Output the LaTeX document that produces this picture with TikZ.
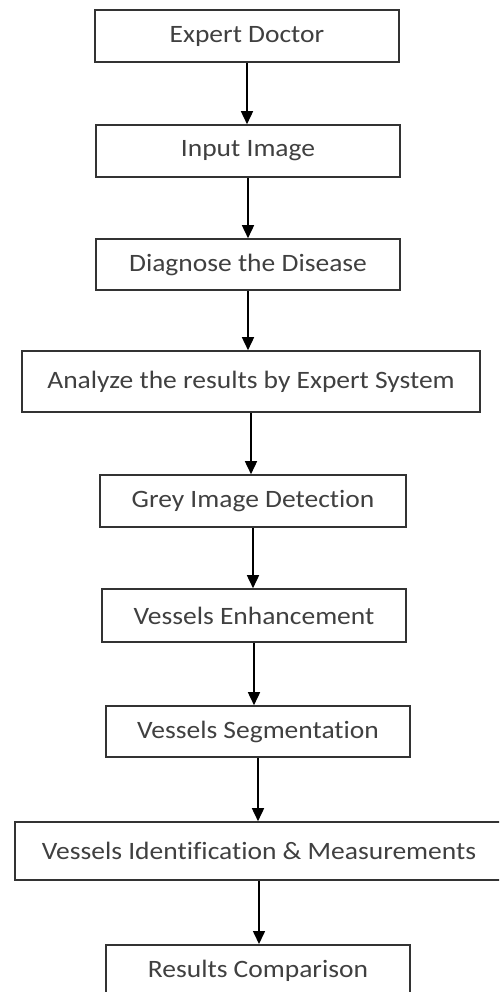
\documentclass[tikz,border=0pt]{standalone}
\usepackage{fontspec}
\setmainfont{Carlito}[FakeStretch=1.1,Ligatures=NoCommon]
\usetikzlibrary{arrows.meta}
\begin{document}
\begin{tikzpicture}[x=1pt,y=-1pt,
  box/.style={draw=black!80,line width=1.6pt,rectangle,inner sep=0pt,
    font=\fontsize{25}{30}\selectfont,text=black!75},
  arr/.style={draw=black,line width=1.6pt,-{Triangle[length=13pt,width=12pt]}}]
\useasboundingbox (0,0) rectangle (499,992);
\clip (0,0) rectangle (499,992);
\fill[white] (0,0) rectangle (499,992);
\node[box,minimum width=304pt,minimum height=52pt] (b1) at (247,36) {Expert Doctor};
\node[box,minimum width=304pt,minimum height=52pt] (b2) at (248,151) {Input Image};
\node[box,minimum width=304pt,minimum height=51pt] (b3) at (248,264.5) {Diagnose the Disease};
\node[box,minimum width=458pt,minimum height=61pt] (b4) at (251,381.5) {Analyze the results by Expert System};
\node[box,minimum width=306pt,minimum height=52pt] (b5) at (253,501) {Grey Image Detection};
\node[box,minimum width=304pt,minimum height=53pt] (b6) at (254,615.5) {Vessels Enhancement};
\node[box,minimum width=304pt,minimum height=51pt] (b7) at (258,731.5) {Vessels Segmentation};
\node[box,minimum width=488pt,minimum height=58pt] (b8) at (259,851) {Vessels Identification \& Measurements};
\node[box,minimum width=304pt,minimum height=56pt,anchor=north] (b9) at (258,944) {\raisebox{8pt}{Results Comparison}};
\draw[arr] (b1.south) -- (b1.south |- b2.north);
\draw[arr] (b2.south) -- (b2.south |- b3.north);
\draw[arr] (b3.south) -- (b3.south |- b4.north);
\draw[arr] (b4.south) -- (b4.south |- b5.north);
\draw[arr] (b5.south) -- (b5.south |- b6.north);
\draw[arr] (b6.south) -- (b6.south |- b7.north);
\draw[arr] (b7.south) -- (b7.south |- b8.north);
\draw[arr] (b8.south) -- (b8.south |- b9.north);
\end{tikzpicture}
\end{document}
